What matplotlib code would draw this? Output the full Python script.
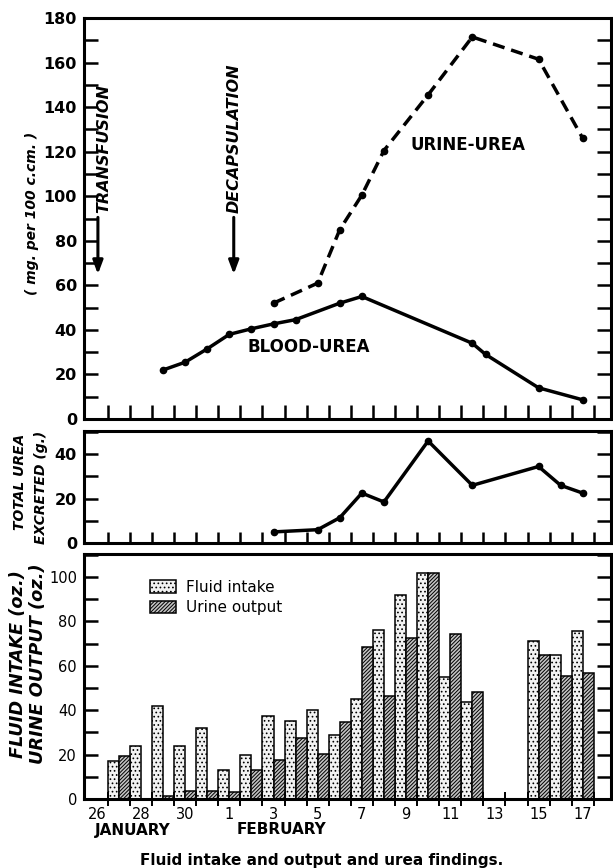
import numpy as np
import matplotlib
matplotlib.use("Agg")
import matplotlib.pyplot as plt
from matplotlib.ticker import MultipleLocator

# --- data ---
# day index: 0 = 26 January, 6 = 1 February, 22 = 17 February
date_ticks = [0, 2, 4, 6, 8, 10, 12, 14, 16, 18, 20, 22]
date_labels = ["26", "28", "30", "1", "3", "5", "7", "9", "11", "13", "15", "17"]

blood_days = [3, 4, 5, 6, 7, 8, 9, 11, 12, 17, 17.6, 20, 22]
blood_urea = [22, 25.5, 31.5, 38, 40.5, 42.7, 44.6, 52, 55, 34, 29, 14, 8.6]

urine_days = [8, 10, 11, 12, 13, 15, 17, 20, 22]
urine_urea = [52, 61, 85, 100.5, 120.5, 145.5, 171.5, 161.5, 126]

total_days = [8, 10, 11, 12, 13, 15, 17, 20, 21, 22]
total_urea = [5, 6, 11.4, 22.5, 18.5, 46, 26, 34.5, 26, 22.5]

fluid_days = [1, 2, 3, 4, 5, 6, 7, 8, 9, 10, 11, 12, 13, 14, 15, 16, 17, 20, 21, 22]
fluid_intake = [17, 24, 42, 24, 32, 13, 20, 37.5, 35, 40, 29, 45, 76, 92, 102, 55, 43.5, 71, 65, 75.5]

output_days = [1, 3, 4, 5, 6, 7, 8, 9, 10, 11, 12, 13, 14, 15, 16, 17, 20, 21, 22]
urine_output = [19.5, 1.5, 3.5, 3.5, 3, 13, 17.5, 27.5, 20.5, 34.7, 68.5, 46.5, 72.5, 102, 74.5, 48, 65, 55.5, 57]

# --- layout ---
W, H = 613, 868
XLIM = (-0.58, 23.28)
LEFT, RIGHT = 84, 611


def axes_px(top, bottom):
    return [LEFT / W, (H - bottom) / H, (RIGHT - LEFT) / W, (bottom - top) / H]


plt.rcParams["font.family"] = ["DejaVu Sans"]
plt.rcParams["hatch.linewidth"] = 0.7

fig = plt.figure(figsize=(W / 100, H / 100), dpi=100)
fig.patch.set_facecolor("white")

ax1 = fig.add_axes(axes_px(18, 419))
ax2 = fig.add_axes(axes_px(431, 543))
ax3 = fig.add_axes(axes_px(554, 799))

boundaries = np.arange(23) + 0.5


def style(ax, ymax, bold):
    ax.set_xlim(*XLIM)
    ax.set_ylim(0, ymax)
    for s in ax.spines.values():
        s.set_linewidth(2.2)
    ax.yaxis.set_major_locator(MultipleLocator(20))
    ax.yaxis.set_minor_locator(MultipleLocator(10))
    ax.tick_params(axis="y", which="both", direction="in", length=10, width=1.8,
                   left=True, right=True, labelright=False, pad=5)
    for t in ax.get_yticklabels():
        t.set_fontsize(11.5 if bold else 10.5)
        t.set_fontweight("bold" if bold else "normal")


# --- top: urea concentrations ---
style(ax1, 180, True)
ax1.set_xticks(boundaries)
ax1.set_xticklabels([])
ax1.tick_params(axis="x", direction="in", length=10, width=1.8)
ax1.plot(blood_days, blood_urea, color="black", lw=2.5, marker="o", ms=4.5)
ax1.plot(urine_days, urine_urea, color="black", lw=2.5, ls=(0, (3.5, 2)),
         marker="o", ms=4.5)
ax1.text(16.8, 123, "URINE-UREA", fontsize=12, fontweight="bold", ha="center", va="center")
ax1.text(9.6, 32.5, "BLOOD-UREA", fontsize=12, fontweight="bold", ha="center", va="center")

for x_txt, x_arr, label in [(0.3, 0.05, "TRANSFUSION"), (6.2, 6.2, "DECAPSULATION")]:
    ax1.text(x_txt, 92.5, label, rotation=90, fontsize=11.5, fontweight="bold",
             fontstyle="italic", ha="center", va="bottom")
    ax1.annotate("", xy=(x_arr, 65), xytext=(x_arr, 90.5),
                 arrowprops=dict(arrowstyle="-|>,head_width=0.3,head_length=0.8",
                                 lw=2.2, color="black", shrinkA=0, shrinkB=0))

fig.text(32 / W, 1 - 213 / H, "( mg. per 100 c.cm. )", rotation=90, fontsize=10,
         fontweight="bold", fontstyle="italic", ha="center", va="center")

# --- middle: total urea excreted ---
style(ax2, 50.5, True)
ax2.set_xticks(boundaries)
ax2.set_xticklabels([])
ax2.tick_params(axis="x", direction="in", length=8, width=1.8)
ax2.plot(total_days, total_urea, color="black", lw=2.5, marker="o", ms=4.5)
fig.text(20 / W, 1 - 482 / H, "TOTAL UREA", rotation=90, fontsize=10,
         fontweight="bold", fontstyle="italic", ha="center", va="center")
fig.text(41 / W, 1 - 487 / H, "EXCRETED (g.)", rotation=90, fontsize=10,
         fontweight="bold", fontstyle="italic", ha="center", va="center")

# --- bottom: fluid intake / urine output ---
style(ax3, 110.4, False)
fluid_bars = ax3.bar(np.array(fluid_days) - 0.5, fluid_intake, width=0.5, align="edge",
                     facecolor="#f2f2f2", edgecolor="black", linewidth=1.1, hatch="....")
urine_bars = ax3.bar(output_days, urine_output, width=0.5, align="edge",
                     facecolor="#c4c4c4", edgecolor="black", linewidth=1.1, hatch="/////////")
ax3.set_xticks(date_ticks)
ax3.set_xticklabels(date_labels, fontsize=10.5)
ax3.tick_params(axis="x", which="major", length=0, pad=6)
ax3.set_xticks(boundaries, minor=True)
ax3.tick_params(axis="x", which="minor", direction="inout", length=10, width=1.4)
ax3.legend([fluid_bars, urine_bars], ["Fluid intake", "Urine output"],
           loc="upper left", bbox_to_anchor=(0.1, 0.95), frameon=False, fontsize=11,
           handlelength=1.7, handleheight=0.9, labelspacing=0.35, handletextpad=0.6)

ax3.text(1.63, -0.128, "JANUARY", transform=ax3.get_xaxis_transform(), fontsize=11,
         fontweight="bold", ha="center", va="center")
ax3.text(8.37, -0.126, "FEBRUARY", transform=ax3.get_xaxis_transform(), fontsize=11,
         fontweight="bold", ha="center", va="center")

fig.text(18 / W, 1 - 664 / H, "FLUID INTAKE (oz.)", rotation=90, fontsize=12.8,
         fontweight="bold", fontstyle="italic", ha="center", va="center")
fig.text(38 / W, 1 - 664 / H, "URINE OUTPUT (oz.)", rotation=90, fontsize=12.8,
         fontweight="bold", fontstyle="italic", ha="center", va="center")

fig.text(0.524, 1 - 861 / H, "Fluid intake and output and urea findings.",
         fontsize=11, fontweight="bold", ha="center", va="center")

fig.savefig("out.png", dpi=100)
